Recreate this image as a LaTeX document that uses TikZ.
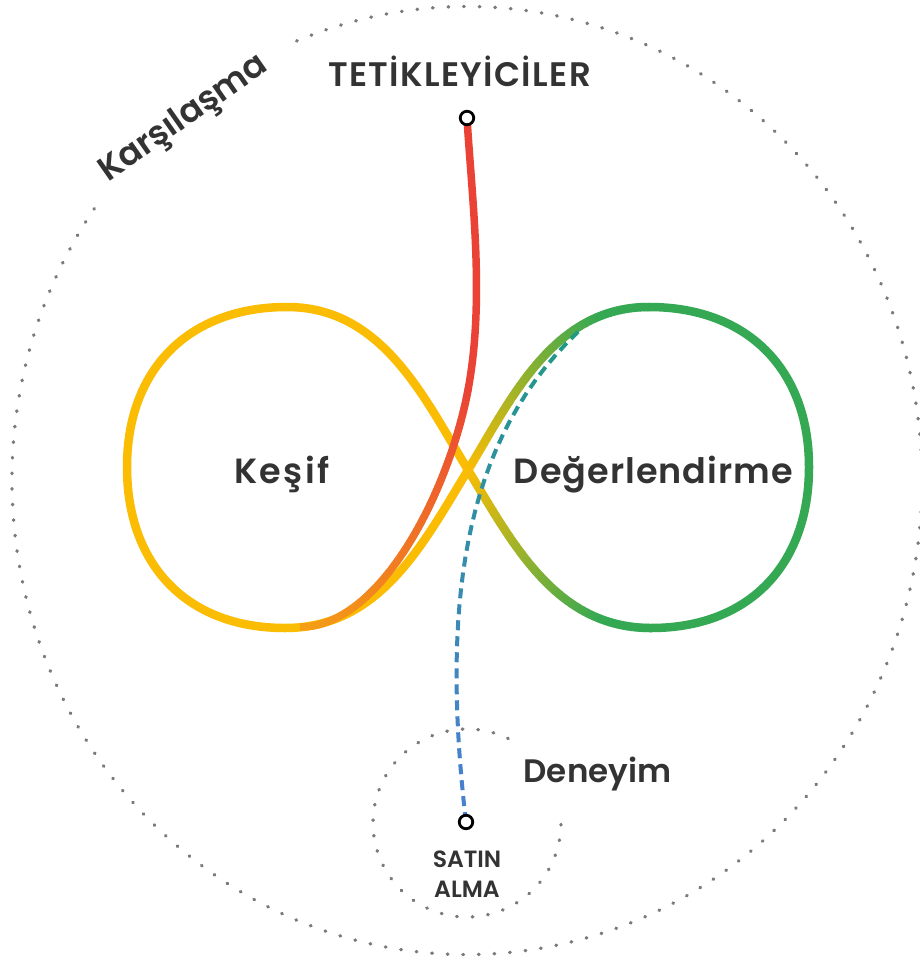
\documentclass[tikz,border=0pt]{standalone}
\usepackage{fontspec}
\usetikzlibrary{decorations.markings}
\IfFontExistsTF{Poppins SemiBold}{\setmainfont{Poppins SemiBold}}{%
  \IfFontExistsTF{Poppins Medium}{\setmainfont{Poppins Medium}}{\setmainfont{Poppins}}}
\definecolor{gyellow}{HTML}{FBBC04}
\definecolor{ggreen}{HTML}{34A853}
\definecolor{gred}{HTML}{EA4335}
\definecolor{gmerge}{HTML}{F5A015}
\definecolor{dblue}{HTML}{4A7FD3}
\definecolor{dteal}{HTML}{1F9A84}
\definecolor{dotgray}{HTML}{7A7A7A}
\definecolor{txt}{HTML}{333333}
\newcommand\lblsize[1]{\fontsize{#1}{#1}\selectfont}
\begin{document}
\begin{tikzpicture}[x=1pt,y=-1pt,
  dotline/.style={draw=dotgray, line width=3.4pt, line cap=round, dash pattern=on 0.6pt off 15pt},
  loopline/.style={line width=8.5pt, line cap=round},
  marker/.style={circle, draw=black, fill=white, line width=2.8pt, minimum size=13.5pt, inner sep=0pt},
  lbl/.style={text=txt, inner sep=0pt, anchor=base},
  gradline/.style n args={4}{postaction={decorate, decoration={markings,
     mark=between positions 0 and 1 step 1.5pt with {%
       \pgfmathsetmacro{\gr}{(\pgfkeysvalueof{/pgf/decoration/mark info/distance from start})/((#3)*\pgfdecoratedpathlength)}%
       \pgfmathsetmacro{\gp}{min(100,100*\gr)}%
       \draw[line width=#4, color=#2!\gp!#1] (-1pt,0) -- (1pt,0);}}}},
  graddash/.style n args={2}{postaction={decorate, decoration={markings,
     mark=between positions 0 and 1 step 16pt with {%
       \pgfmathsetmacro{\gr}{(\pgfkeysvalueof{/pgf/decoration/mark info/distance from start})/(\pgfdecoratedpathlength)}%
       \pgfmathsetmacro{\gp}{min(100,100*\gr)}%
       \draw[line width=4pt, color=#2!\gp!#1] (0pt,0) -- (10pt,0);}}}},
]
\fill[white] (0,0) rectangle (920,963);
\useasboundingbox (0,0) rectangle (920,963);

% key points
\coordinate (cE) at (467,480.5);
\coordinate (cS) at (467,823);
\coordinate (X) at (468,470);
\coordinate (TL) at (287,307);
\coordinate (L) at (127,467);
\coordinate (BL) at (285,628);
\coordinate (TR) at (649,307);
\coordinate (R) at (809,467);
\coordinate (BR) at (651,628);
\coordinate (trigpt) at (467,118);
\coordinate (J) at (468,390);
\coordinate (Mg) at (300,627);
\coordinate (buypt) at (466,822);
\coordinate (E) at (577,333);

% outer dotted ellipse with gap for label
\draw[dotline] (cE) ++(145:455pt and 474pt) arc[start angle=145, end angle=473, x radius=455pt, y radius=474pt];
% small dotted circle (Deneyim)
\draw[dotline] (cS) ++(64:94pt) arc[start angle=64, end angle=365, radius=94pt];

% left lobe
\draw[loopline, gyellow] (X) .. controls (423.8,396.9) and (382,307) .. (TL)
  .. controls (189,307) and (127,369) .. (L)
  .. controls (127,565) and (187,628) .. (BL)
  .. controls (380,628) and (423,544) .. (X);
% right lobe
\draw[loopline, ggreen] (TR) .. controls (747,307) and (809,369) .. (R)
  .. controls (809,565) and (749,628) .. (BR);
\path[gradline={gyellow}{ggreen}{0.8}{8.5pt}] (X) .. controls (512.2,396.9) and (554,307) .. (TR);
\path[gradline={gyellow}{ggreen}{0.8}{8.5pt}] (X) .. controls (513,544) and (556,628) .. (BR);

% red trigger curve
\draw[line width=7.5pt, gred] (trigpt) .. controls (472,200) and (485,300) .. (J);
\path[gradline={gred}{gmerge}{1}{7.5pt}] (J) .. controls (448.5,492.9) and (380,627) .. (Mg);

% dashed purchase curve
\path[graddash={dblue}{dteal}] (buypt) .. controls (440,600) and (465,440) .. (E);

% markers
\node[marker] (trig) at (trigpt) {};
\node[marker] (buy) at (buypt) {};

% labels
\node[lbl, font=\lblsize{34}\addfontfeature{LetterSpace=4}] (trigtxt) at (459.5,86.7) {TETİKLEYİCİLER};
\node[lbl, font=\lblsize{35}\addfontfeature{LetterSpace=7}] (kesif) at (282,483) {Keşif};
\node[lbl, font=\lblsize{35}\addfontfeature{LetterSpace=3}] (deger) at (653.5,483) {Değerlendirme};
\node[lbl, font=\lblsize{32.5}] (deneyim) at (597.5,782) {Deneyim};
\node[lbl, font=\lblsize{23.5}] (satin) at (467,867) {SATIN};
\node[lbl, font=\lblsize{23.5}] (alma) at (467,897) {ALMA};
\node[lbl, font=\lblsize{34}, rotate=35] (kars) at (189,126) {Karşılaşma};
\end{tikzpicture}
\end{document}
